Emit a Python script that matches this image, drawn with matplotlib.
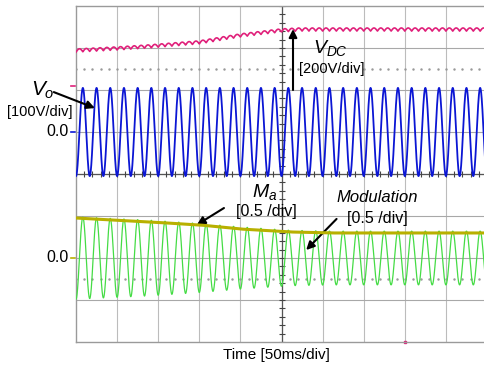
import numpy as np
import matplotlib
matplotlib.use('Agg')
from matplotlib import pyplot as plt

plt.rcParams['font.family'] = ['Liberation Sans', 'DejaVu Sans']
plt.rcParams['mathtext.fontset'] = 'custom'
plt.rcParams['mathtext.rm'] = 'Liberation Sans'
plt.rcParams['mathtext.it'] = 'Liberation Sans:italic'

# scope settings: 10 x 8 divisions, 50 ms/div
T_DIV = 50.0
N_X, N_Y = 10, 8
F_LINE = 60.0  # Hz, output frequency

# V_DC trace (200 V/div, ground at +2 div)
vdc_t = [0, 50, 90, 150, 200, 250, 272, 500]
vdc_v = [190, 200, 210, 229, 262, 286, 290, 290]
vdc_ripple = 15.0
vdc_scale, vdc_offset = 200.0, 2.0

# V_o trace (100 V/div, ground at +1 div)
vo_amp = 105.0
vo_scale, vo_offset = 100.0, 1.0

# modulation index M_a and modulation signal (0.5 /div, ground at -2 div)
ma_t = [0, 90, 151, 200, 260, 309, 500]
ma_v = [0.476, 0.429, 0.393, 0.345, 0.310, 0.298, 0.298]
mod_amp = [0.49, 0.45, 0.41, 0.37, 0.33, 0.32, 0.32]
ma_scale, ma_offset = 0.5, -2.0

t = np.linspace(0, T_DIV * N_X, 6000)
w = 2 * np.pi * F_LINE * t / 1000.0

vdc = np.interp(t, vdc_t, vdc_v) + vdc_ripple * (np.abs(np.sin(w)) - 0.64)
vo = -vo_amp * np.cos(w)
ma = np.interp(t, ma_t, ma_v)
mod = -np.interp(t, ma_t, mod_amp) * np.cos(w)

fig = plt.figure(figsize = (4.85, 3.68), dpi = 100)
ax = fig.add_axes([76 / 485, 26 / 368, 411 / 485, 336 / 368])
ax.set_xlim(0, T_DIV * N_X)
ax.set_ylim(-N_Y / 2, N_Y / 2)
ax.set_xticks([])
ax.set_yticks([])
for s in ax.spines.values():
    s.set_color('#9a9a9a')
    s.set_linewidth(1.0)

# graticule
for k in range(1, N_X):
    ax.axvline(k * T_DIV, color = '#bcbcbc', lw = 0.8, zorder = 0)
for k in range(-3, 4):
    ax.axhline(k, color = '#a8a8a8', lw = 0.8, zorder = 0)
ax.axvline(5 * T_DIV, color = '#555555', lw = 0.9, zorder = 1)
ax.axhline(0, color = '#555555', lw = 0.9, zorder = 1)
xt = np.arange(0, T_DIV * N_X + 1, T_DIV / 5)
yt = np.arange(-N_Y / 2, N_Y / 2 + 0.01, 0.2)
ax.plot(xt, np.zeros_like(xt), ls = 'none', marker = '|', ms = 4, color = '#444444', mew = 0.8, zorder = 1)
ax.plot(np.full_like(yt, 5 * T_DIV), yt, ls = 'none', marker = '_', ms = 5, color = '#444444', mew = 0.8, zorder = 1)
for lvl in (2.5, -2.5):
    ax.plot(xt, np.full_like(xt, lvl), ls = 'none', marker = '.', ms = 1.5, color = '#999999', zorder = 0)

# traces
ax.plot(t, vdc / vdc_scale + vdc_offset, color = '#e0207a', lw = 1.2, zorder = 3)
ax.plot(t, vo / vo_scale + vo_offset, color = '#0b16d4', lw = 1.3, zorder = 3)
ax.plot(t, mod / ma_scale + ma_offset, color = '#45dc45', lw = 0.9, zorder = 3)
ax.plot(t, ma / ma_scale + ma_offset, color = '#b8b000', lw = 2.2, zorder = 4)

# channel markers on the left
for lvl, c in ((2.1, '#e0207a'), (1.0, '#0b16d4'), (-2.0, '#b8b000')):
    ax.plot([-6, -1], [lvl, lvl], color = c, lw = 1.2, clip_on = False)

# trigger marker at the bottom
ax.plot([400], [-4], marker = 's', ms = 2, color = '#e0207a', clip_on = False)

arrow = dict(arrowstyle = '-|>', color = 'black', lw = 1.5, mutation_scale = 12, shrinkA = 0, shrinkB = 0)

# labels
ax.text(-40, 1.98, r'$V_o$', fontsize = 15, ha = 'center', va = 'center', clip_on = False)
ax.text(-44, 1.48, '[100V/div]', fontsize = 10.5, ha = 'center', va = 'center', clip_on = False)
ax.text(-9, 1.0, '0.0', fontsize = 11.5, ha = 'right', va = 'center', clip_on = False)
ax.text(-9, -2.0, '0.0', fontsize = 11.5, ha = 'right', va = 'center', clip_on = False)
ax.annotate('', xy = (23, 1.57), xytext = (-27, 1.95), arrowprops = arrow, annotation_clip = False)

ax.text(310, 3.0, r'$V_{DC}$', fontsize = 14, ha = 'center', va = 'center')
ax.text(311, 2.5, '[200V/div]', fontsize = 10.5, ha = 'center', va = 'center')
ax.annotate('', xy = (264, 3.45), xytext = (264, 2.0), arrowprops = arrow)

ax.text(230, -0.43, r'$M_a$', fontsize = 14, ha = 'center', va = 'center')
ax.text(231, -0.90, '[0.5 /div]', fontsize = 11.5, ha = 'center', va = 'center')
ax.annotate('', xy = (147, -1.21), xytext = (180, -0.81), arrowprops = arrow)

ax.text(367, -0.57, 'Modulation', fontsize = 12, style = 'italic', ha = 'center', va = 'center')
ax.text(367, -1.07, '[0.5 /div]', fontsize = 11.5, ha = 'center', va = 'center')
ax.annotate('', xy = (280, -1.81), xytext = (317, -1.07), arrowprops = arrow)

fig.text(276 / 485, 1 - 355 / 368, 'Time [50ms/div]', fontsize = 11, ha = 'center', va = 'center')

fig.savefig('out.png', dpi = 100)
